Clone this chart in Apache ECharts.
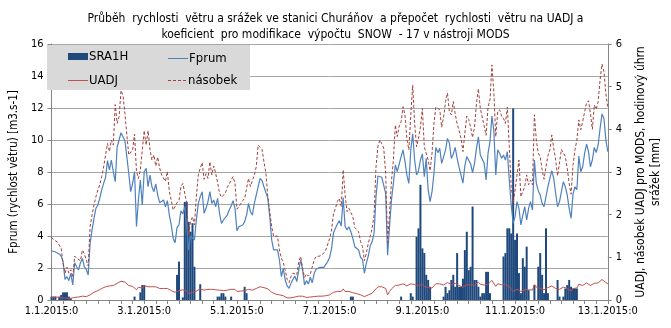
<!DOCTYPE html>
<html>
<head>
<meta charset="utf-8">
<script src="https://cdn.jsdelivr.net/npm/echarts@6/dist/echarts.min.js"></script>
<style>
html,body{margin:0;padding:0;background:#fff;}
#chart{width:671px;height:328px;}
</style>
</head>
<body>
<div id="chart"></div>
<script>
// hourly categories 1.1.2015 0:00 .. 13.1.2015 0:00
const categories = [];
for (let d = 1; d <= 13; d++) {
  for (let h = 0; h < 24; h++) {
    categories.push(d + '.1.2015:' + h);
    if (d === 13) break;
  }
}
const titleText = 'Průběh  rychlosti  větru a srážek ve stanici Churáňov  a přepočet  rychlosti  větru na UADJ a\nkoeficient  pro modifikace  výpočtu  SNOW  - 17 v nástroji MODS';
const leftAxisName = 'Fprum (rychlost větru) [m3.s-1]';
const rightAxisName = 'UADJ, násobek UADJ pro MODS, hodinový úhrn\nsrážek [mm]';

// Fprum (left axis)
const fprum = [
3.08,3.04,3.0,2.92,2.88,2.75,2.4,1.29,1.46,1.21,1.67,0.94,2.33,2.08,1.88,2.33,2.6,2.08,1.92,1.56,
3.54,4.38,5.1,5.73,5.94,6.35,6.88,7.29,7.67,8.71,8.13,8.75,8.02,7.4,9.58,10.0,10.46,10.42,9.96,8.96,
7.92,6.77,7.29,8.02,4.6,6.25,7.5,5.94,8.02,8.23,7.08,7.81,7.08,6.77,7.25,6.56,6.08,6.04,6.25,5.83,
6.21,5.31,4.69,3.85,3.58,4.54,4.69,5.58,5.38,5.83,4.58,3.13,4.0,4.0,3.75,5.0,6.04,6.46,6.77,5.42,
5.73,6.15,6.77,6.04,6.25,5.83,6.35,5.42,4.79,5.0,5.1,5.31,5.63,5.88,6.21,5.73,4.33,4.58,4.48,4.69,
4.9,5.31,6.04,5.52,5.31,6.04,6.56,7.08,7.6,7.46,7.08,6.98,6.35,5.21,3.75,3.13,3.02,3.13,2.5,1.46,
1.98,1.25,0.88,0.73,1.04,1.29,1.5,1.15,1.88,2.5,1.88,0.94,1.21,1.0,1.42,1.08,1.67,1.92,1.98,2.04,
1.98,2.04,2.13,2.4,2.67,3.23,4.21,4.48,4.75,4.96,4.63,6.4,4.6,4.38,4.58,4.27,3.85,3.33,3.44,3.13,
2.67,2.54,1.67,2.3,2.75,3.38,3.65,4.17,6.46,7.75,7.81,7.67,7.6,6.67,2.8,4.6,6.25,7.29,8.44,8.02,
8.5,8.96,9.38,8.65,7.81,7.29,9.38,10.38,8.75,7.81,8.08,8.75,9.13,7.71,8.85,6.88,6.15,6.77,7.92,9.54,
9.21,9.48,8.54,8.5,9.38,10.1,9.79,8.85,9.13,9.54,8.85,8.3,8.2,7.3,8.4,8.96,8.92,8.5,7.96,8.54,
9.48,10.2,9.06,9.13,8.54,7.5,9.17,9.9,11.5,10.6,7.81,9.38,9.17,8.85,9.06,8.75,9.27,7.5,5.94,4.79,
5.21,6.15,5.73,4.69,5.31,5.83,5.0,5.73,6.15,5.63,8.75,7.29,6.83,6.56,6.04,5.83,6.46,7.08,7.6,8.08,
7.6,6.67,5.83,6.15,6.04,7.4,7.08,6.56,5.73,5.1,6.63,7.08,6.9,9.0,8.02,8.33,9.17,9.75,9.27,8.33,
8.75,9.54,9.21,9.69,10.73,11.63,11.35,10.0,9.27
];

// násobek (right axis)
const nasobek = [
1.47,1.42,1.39,1.36,1.33,1.21,0.86,0.63,0.77,0.63,0.71,0.53,1.03,0.98,1.02,0.92,1.17,1.08,0.94,0.80,
1.72,1.99,2.23,2.42,2.58,2.70,2.89,3.12,3.40,3.67,3.48,3.75,3.63,4.58,4.14,4.30,4.91,4.80,4.38,3.87,
3.40,3.40,3.52,3.89,3.01,2.85,3.05,3.01,3.97,3.63,3.97,3.52,3.28,3.40,3.14,3.35,3.09,2.93,2.89,2.78,
3.01,2.54,2.34,2.11,2.19,2.28,2.33,2.66,2.73,2.70,2.27,1.52,1.84,1.95,1.76,2.42,2.93,3.09,3.22,2.83,
2.96,2.85,3.24,2.93,3.14,2.97,2.75,2.50,2.41,2.38,2.50,2.64,2.72,2.81,2.89,2.73,2.13,2.19,2.23,2.33,
2.38,2.42,2.85,2.66,2.62,2.93,3.12,3.63,3.59,3.53,3.24,2.97,2.42,2.07,1.72,1.49,1.49,1.50,1.17,0.98,
0.87,0.71,0.48,0.41,0.55,0.63,0.66,0.59,0.90,1.02,0.74,0.53,0.61,0.56,0.61,0.63,0.94,1.02,1.00,1.03,
1.05,1.10,1.17,1.21,1.44,1.64,2.03,2.15,2.31,2.38,2.19,3.05,2.46,2.07,2.15,2.15,1.95,1.70,1.66,1.60,
1.37,1.25,0.92,1.10,1.33,1.49,1.68,1.99,3.12,3.61,3.75,3.66,3.56,2.97,1.35,2.03,2.78,3.28,4.10,3.83,
4.08,4.18,4.53,4.34,3.77,3.52,4.34,5.04,4.14,3.59,3.79,4.05,4.49,3.59,3.56,3.28,3.03,3.44,4.14,4.52,
4.49,4.46,4.05,4.28,4.65,4.85,4.41,4.34,4.65,4.36,4.13,3.97,3.79,3.48,3.91,4.31,4.23,4.05,3.81,4.05,
4.61,4.95,4.49,4.46,4.08,3.86,4.53,4.69,5.51,4.88,3.83,4.41,4.46,4.31,4.26,4.14,4.52,3.59,2.66,2.27,
2.58,2.54,3.28,2.42,2.38,2.66,2.93,2.70,2.81,2.70,4.34,3.75,3.44,3.36,3.05,2.83,3.12,3.38,3.52,3.87,
3.56,3.28,2.91,2.93,3.53,3.52,3.36,3.09,2.73,2.48,3.17,3.52,3.75,4.22,3.99,4.18,4.41,4.62,4.67,4.38,
4.00,4.57,4.47,4.65,5.16,5.53,5.35,4.85,4.49
];

// UADJ (right axis)
const uadj = [
0.06,0.06,0.07,0.06,0.06,0.05,0.05,0.03,0.04,0.03,0.04,0.03,0.06,0.07,0.07,0.08,0.09,0.08,0.08,0.07,
0.12,0.15,0.18,0.2,0.22,0.24,0.27,0.29,0.31,0.34,0.33,0.35,0.34,0.33,0.39,0.41,0.44,0.45,0.42,0.38,
0.34,0.3,0.32,0.35,0.24,0.3,0.33,0.28,0.34,0.35,0.31,0.33,0.31,0.29,0.31,0.28,0.27,0.27,0.27,0.26,
0.27,0.24,0.22,0.19,0.18,0.21,0.22,0.24,0.24,0.25,0.21,0.15,0.17,0.18,0.17,0.21,0.25,0.26,0.27,0.23,
0.24,0.25,0.27,0.25,0.26,0.24,0.26,0.23,0.21,0.22,0.22,0.23,0.24,0.25,0.26,0.25,0.2,0.21,0.21,0.22,
0.22,0.23,0.25,0.24,0.23,0.25,0.27,0.29,0.31,0.3,0.29,0.28,0.26,0.23,0.18,0.15,0.14,0.15,0.12,0.08,
0.1,0.07,0.05,0.04,0.05,0.06,0.07,0.06,0.09,0.11,0.09,0.05,0.06,0.05,0.07,0.06,0.08,0.09,0.09,0.09,
0.09,0.09,0.1,0.11,0.12,0.14,0.18,0.19,0.2,0.21,0.2,0.26,0.2,0.19,0.2,0.18,0.17,0.15,0.15,0.14,
0.12,0.11,0.08,0.1,0.12,0.14,0.16,0.18,0.26,0.31,0.31,0.31,0.3,0.27,0.12,0.2,0.26,0.3,0.34,0.33,
0.35,0.36,0.38,0.36,0.33,0.3,0.38,0.42,0.36,0.32,0.33,0.35,0.37,0.32,0.36,0.29,0.26,0.28,0.32,0.38,
0.37,0.38,0.35,0.35,0.38,0.41,0.4,0.36,0.37,0.39,0.36,0.34,0.33,0.3,0.34,0.36,0.36,0.35,0.33,0.35,
0.39,0.42,0.37,0.37,0.35,0.31,0.37,0.4,0.46,0.43,0.32,0.38,0.37,0.36,0.37,0.36,0.38,0.31,0.25,0.2,
0.22,0.25,0.24,0.2,0.22,0.24,0.21,0.24,0.25,0.23,0.36,0.3,0.28,0.27,0.25,0.24,0.26,0.29,0.31,0.33,
0.31,0.27,0.24,0.25,0.25,0.3,0.29,0.27,0.24,0.21,0.27,0.29,0.28,0.37,0.33,0.34,0.37,0.4,0.38,0.34,
0.36,0.39,0.38,0.4,0.44,0.48,0.47,0.41,0.38
];

// SRA1H hourly precipitation [mm] (right axis)
const sra1h = [
0.08,0.08,0.08,0,0.08,0.12,0.18,0.18,0.18,0.08,0.04,0,0,0,0,0,0,0,0,0,
0,0,0,0,0,0,0,0,0,0,0,0,0,0,0,0,0,0,0,0,
0,0,0,0.08,0,0,0.18,0.35,0.35,0,0,0,0,0,0,0,0,0,0,0,
0,0,0,0,0,0.59,0.9,0,0.06,2.3,2.3,1.83,1.6,1.8,0.78,0,0,0.37,0,0,
0,0,0,0,0,0,0.08,0.08,0.16,0.16,0.08,0,0,0.08,0,0,0,0,0,0,
0.31,0.16,0,0,0,0,0,0,0,0,0,0,0,0,0,0,0,0,0,0,
0,0,0,0,0,0,0,0,0,0,0,0,0,0,0,0,0,0,0,0,
0,0,0,0,0,0,0,0,0,0,0,0,0,0,0,0.08,0.08,0,0,0,
0,0,0,0,0,0,0,0,0,0,0,0,0,0,0,0,0,0,0,0,
0,0.08,0,0,0,0,0.16,0.08,0,1.48,1.68,2.7,1.21,1.1,0.59,0.47,0.31,0,0,0,
0,0,0,0.08,0.31,0.16,0.23,0.47,0.59,0.31,1.1,0.31,0.31,0.5,1.17,1.6,0.7,0.78,2.19,0.47,
0.47,0.31,0.08,0.16,0.16,0.66,0.66,0.16,0,0,0,0,0,0,1.02,1.1,1.68,1.68,1.56,4.49,
1.41,1.56,0.63,0.16,0.98,0.78,1.25,0.23,0,0,0.35,0,0.78,1.1,0.59,0.16,1.68,0.16,0,0,
0,0,0.47,0.08,0,0.08,0.27,0.35,0.47,0.31,0.27,0.27,0.27,0,0,0,0,0,0,0,
0,0,0,0,0,0,0,0,0
];

const leftTicks = [0, 16, 2];
const rightTicks = [0, 6, 1];

const FONT = "'Liberation Sans Narrow','DejaVu Sans Condensed','Liberation Sans',sans-serif";
const DASH_ICON = 'path://M0,0H3V1H0Z M5,0H8V1H5Z M10,0H13V1H10Z M15,0H18V1H15Z';
const C_BAR = '#1f497d', C_F = '#4f81bd', C_U = '#c0504d', C_N = '#a0403d';
const legendText = {fontSize: 13, color: '#000', fontFamily: FONT, padding: [0, 0, 0, -4]};
function lg(name, icon, color, left, top, h) {
  return {data: [{name: name, icon: icon, itemStyle: {color: color, borderWidth: 0}}],
          left: left, top: top, itemWidth: 20, itemHeight: h, itemGap: 0, z: 60, textStyle: legendText};
}
const chart = echarts.init(document.getElementById('chart'), null, {renderer: 'canvas'});
chart.setOption({
  animation: false,
  backgroundColor: '#ffffff',
  textStyle: {fontFamily: FONT},
  title: {
    text: titleText,
    left: 'center',
    top: 6,
    textStyle: {fontSize: 12, fontWeight: 'normal', color: '#000', lineHeight: 16, fontFamily: FONT}
  },
  graphic: [{
    type: 'rect', left: 47, top: 45, z: 50,
    shape: {width: 203, height: 45},
    style: {fill: '#d9d9d9'}
  }],
  legend: [
    lg('SRA1H', 'rect', C_BAR, 63, 45, 7),
    lg('UADJ', 'rect', C_U, 63, 69, 1),
    lg('Fprum', 'rect', C_F, 163, 47, 1),
    lg('násobek', DASH_ICON, C_N, 163, 69, 1)
  ],
  grid: {left: 44, right: 56, top: 44, bottom: 28, containLabel: false},
  xAxis: {
    type: 'category',
    data: categories,
    boundaryGap: false,
    axisLine: {lineStyle: {color: '#868686', width: 1}},
    axisTick: {interval: 5, length: 4, lineStyle: {color: '#868686'}},
    axisLabel: {interval: 47, color: '#000', fontSize: 11, fontFamily: FONT, margin: 6},
    splitLine: {show: false}
  },
  yAxis: [
    {
      type: 'value', min: leftTicks[0], max: leftTicks[1], interval: leftTicks[2],
      name: leftAxisName, nameLocation: 'middle', nameGap: 24, nameRotate: 90,
      nameTextStyle: {fontSize: 11.5, color: '#000', fontFamily: FONT},
      axisLine: {show: true, lineStyle: {color: '#868686'}},
      axisTick: {show: true, length: 4, lineStyle: {color: '#868686'}},
      axisLabel: {color: '#000', fontSize: 11, fontFamily: FONT, margin: 8},
      splitLine: {show: true, lineStyle: {color: '#a6a6a6', width: 1}}
    },
    {
      type: 'value', min: rightTicks[0], max: rightTicks[1], interval: rightTicks[2], position: 'right',
      name: rightAxisName, nameLocation: 'middle', nameGap: 22, nameRotate: 90,
      nameTextStyle: {fontSize: 12, color: '#000', fontFamily: FONT, lineHeight: 15, align: 'center'},
      axisLine: {show: true, lineStyle: {color: '#868686'}},
      axisTick: {show: true, length: 4, lineStyle: {color: '#868686'}},
      axisLabel: {color: '#000', fontSize: 11, fontFamily: FONT, margin: 8},
      splitLine: {show: false}
    }
  ],
  series: [
    {name: 'SRA1H', type: 'bar', yAxisIndex: 1, data: sra1h, barWidth: 2,
     itemStyle: {color: C_BAR}, z: 2},
    {name: 'Fprum', type: 'line', yAxisIndex: 0, data: fprum, symbol: 'none',
     lineStyle: {color: C_F, width: 1.2}, itemStyle: {color: C_F}, z: 3},
    {name: 'UADJ', type: 'line', yAxisIndex: 1, data: uadj, symbol: 'none',
     lineStyle: {color: C_U, width: 1}, itemStyle: {color: C_U}, z: 4},
    {name: 'násobek', type: 'line', yAxisIndex: 1, data: nasobek, symbol: 'none',
     lineStyle: {color: C_N, width: 1, type: [3, 2]}, itemStyle: {color: C_N}, z: 5}
  ]
});
</script>
</body>
</html>
